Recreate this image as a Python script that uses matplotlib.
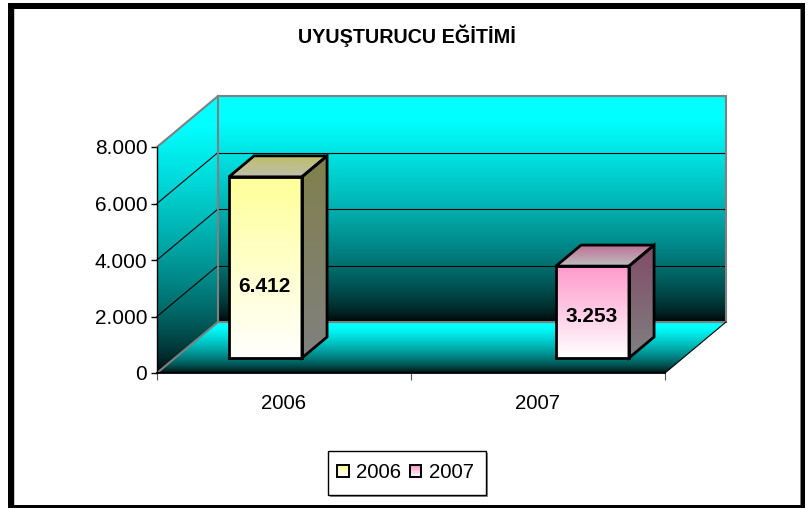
import numpy as np
import matplotlib
matplotlib.use("Agg")
import matplotlib.pyplot as plt
from matplotlib.patches import Polygon, Rectangle
from matplotlib.legend_handler import HandlerBase
from matplotlib.lines import Line2D

plt.rcParams['font.family'] = ['Liberation Sans', 'DejaVu Sans']

title = "UYUŞTURUCU EĞİTİMİ"
years = ["2006", "2007"]
values = [6412, 3253]
value_labels = ["6.412", "3.253"]
y_ticks = [0, 2000, 4000, 6000, 8000]
y_tick_labels = ["0", "2.000", "4.000", "6.000", "8.000"]

W, H = 811, 508
fig = plt.figure(figsize=(W / 100, H / 100), dpi=100, facecolor="white")


def fx(p):
    return p / W


def fy(p):
    return 1 - p / H


# outer frame
for x0, y0, x1, y1, col in [(14, 9, 15, 505, "#c8c8c8"), (799.5, 9, 801, 505, "#808080"),
                            (8, 3, 805, 9, "black"), (8, 505, 805, 508, "black"),
                            (8, 3, 14, 508, "black"), (801, 3, 805, 508, "black")]:
    fig.add_artist(Rectangle((fx(x0), fy(y1)), (x1 - x0) / W, (y1 - y0) / H,
                             transform=fig.transFigure, fc=col, ec="none"))

# front plane of the 3-D box is the axes rectangle
L, R, T, B = 157, 665, 147, 373
ax = fig.add_axes([fx(L), fy(B), (R - L) / W, (B - T) / H])
ax.set_facecolor("none")
ax.set_xlim(-0.5, 1.5)
ax.set_ylim(0, 8000)

DX = 61 / ((R - L) / 2)
DY = 51 / ((B - T) / 8000)


def P(x, v, d):
    return (x + d * DX, v + d * DY)


def grad(poly, top, bottom, z, gamma=1.0):
    poly = np.array(poly)
    xmin, xmax = poly[:, 0].min(), poly[:, 0].max()
    lo, hi = poly[:, 1].min(), poly[:, 1].max()
    t = np.linspace(0, 1, 256)
    t = np.clip(t * (1.12 if gamma != 1.0 else 1.0), 0, 1) ** gamma
    t = t[:, None, None]
    arr = np.array(bottom)[None, None, :] * (1 - t) + np.array(top)[None, None, :] * t
    im = ax.imshow(arr / 255, extent=(xmin, xmax, lo, hi), origin="lower",
                   aspect="auto", zorder=z, interpolation="bilinear")
    clip = Polygon(poly, closed=True, transform=ax.transData)
    im.set_clip_box(fig.bbox)
    im.set_clip_path(clip)
    return im


def outline(poly, color, lw, z):
    ax.add_patch(Polygon(poly, closed=True, fc="none", ec=color, lw=lw, zorder=z,
                         clip_on=False, joinstyle="miter"))


CYAN, BLACK = (0, 255, 255), (0, 0, 0)
x0, x1 = -0.5, 1.5

back = [P(x0, 0, 1), P(x1, 0, 1), P(x1, 8000, 1), P(x0, 8000, 1)]
wall = [P(x0, 0, 0), P(x0, 0, 1), P(x0, 8000, 1), P(x0, 8000, 0)]
floor = [P(x0, 0, 0), P(x1, 0, 0), P(x1, 0, 1), P(x0, 0, 1)]
grad(back, CYAN, BLACK, 1, 0.65)
grad(wall, CYAN, BLACK, 1, 0.65)
grad(floor, CYAN, BLACK, 1, 0.65)

for v in y_ticks[1:-1]:
    ax.plot(*zip(P(x0, v, 1), P(x1, v, 1)), color="black", lw=0.8, zorder=1.5, clip_on=False)
    ax.plot(*zip(P(x0, v, 0), P(x0, v, 1)), color="black", lw=0.8, zorder=1.5, clip_on=False)

GRAY = "#808080"
outline(back, GRAY, 1.5, 1.6)
ax.plot(*zip(P(x0, 8000, 0), P(x0, 8000, 1)), color=GRAY, lw=1.5, zorder=1.6, clip_on=False)
ax.plot(*zip(P(x0, 0, 0), P(x0, 0, 1)), color=GRAY, lw=1.5, zorder=1.6, clip_on=False)
ax.plot(*zip(P(x1, 0, 0), P(x1, 0, 1)), color="black", lw=0.8, zorder=1.6, clip_on=False)

# bars
D0, D1 = 15 / 51, 36 / 51
BW = 73 / ((R - L) / 2)
styles = [
    dict(front=(255, 255, 153), top0=(190, 190, 105), top1=(190, 190, 175),
         side0=(128, 128, 76)),
    dict(front=(255, 153, 204), top0=(190, 112, 150), top1=(190, 190, 190),
         side0=(128, 76, 102)),
]
offsets = [-BW, 0]
label_frac = [0.395, 0.457]
for i, (val, lab, st) in enumerate(zip(values, value_labels, styles)):
    a, b = i + offsets[i], i + offsets[i] + BW
    front = [P(a, 0, D0), P(b, 0, D0), P(b, val, D0), P(a, val, D0)]
    side = [P(b, 0, D0), P(b, 0, D1), P(b, val, D1), P(b, val, D0)]
    top = [P(a, val, D0), P(b, val, D0), P(b, val, D1), P(a, val, D1)]
    grad(front, st["front"], (255, 255, 255), 3)
    grad(side, st["side0"], (128, 128, 128), 3)
    grad(top, st["top0"], st["top1"], 3)
    for poly in (front, side, top):
        outline(poly, "black", 2.0, 3.2)
    lx, ly = P((a + b) / 2 - 0.004, val * label_frac[i], D0)
    ax.text(lx, ly, lab, ha="center", va="center", fontsize=15.0, fontweight="bold",
            color="black", zorder=4)

# axes decoration
for s in ("top", "right"):
    ax.spines[s].set_visible(False)
ax.spines["left"].set_linewidth(1.0)
ax.spines["bottom"].set_linewidth(1.3)
ax.set_yticks(y_ticks, y_tick_labels, fontsize=15)
ax.tick_params(axis="y", length=4, width=1.0, pad=3)
ax.set_xticks([-0.5, 0.5, 1.5], ["", "", ""])
ax.tick_params(axis="x", which="major", length=5, width=0.8, color="#555555")
ax.set_xticks([0, 1], years, minor=True, fontsize=14.7)
ax.tick_params(axis="x", which="minor", length=0, pad=15, labelsize=14.7)

fig.text(fx(406.5), fy(36), title, ha="center", va="center", fontsize=14.2, fontweight="bold")


class GradHandler(HandlerBase):
    def create_artists(self, legend, orig, xd, yd, w, h, fs, trans):
        col = np.array(orig.get_markerfacecolor())
        n = 8
        arts = []
        for k in range(n):
            t = k / (n - 1)
            c = col * (1 - t) + np.ones(3) * t
            arts.append(Rectangle((-xd, -yd + h * (1 - (k + 1) / n)), w, h / n, fc=c, ec="none",
                                  transform=trans))
        arts.append(Rectangle((-xd, -yd), w, h, fc="none", ec="black", lw=1.4, transform=trans))
        return arts


# legend box with a thin shadow
fig.add_artist(Rectangle((fx(330), fy(497)), 158 / W, 44 / H, transform=fig.transFigure,
                         fc="#909090", ec="none"))
fig.add_artist(Rectangle((fx(328), fy(495)), 158 / W, 44 / H, transform=fig.transFigure,
                         fc="white", ec="black", lw=1.0))
handles = [Line2D([], [], markerfacecolor=np.array(s["front"]) / 255, label=y)
           for s, y in zip(styles, years)]
leg = fig.legend(handles=handles, labels=years, handler_map={Line2D: GradHandler()},
                 loc="center", bbox_to_anchor=(fx(405.5), fy(473)), ncol=2, fontsize=14.7,
                 frameon=False, handlelength=0.56, handleheight=0.56, handletextpad=0.37,
                 columnspacing=0.42, borderpad=0, borderaxespad=0)

fig.savefig("out.png", dpi=100)
